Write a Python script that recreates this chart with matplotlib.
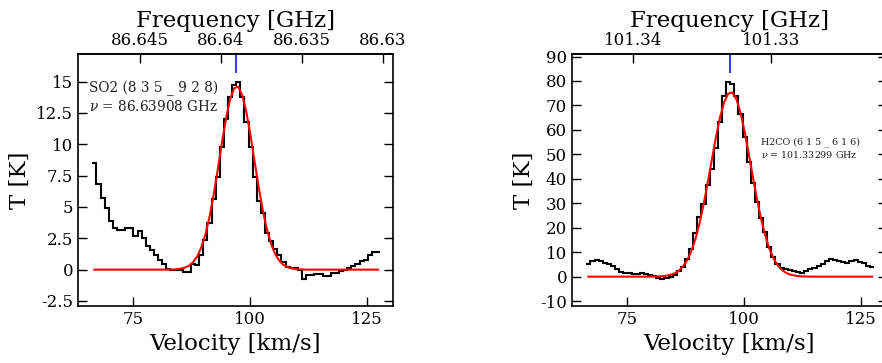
import matplotlib
matplotlib.use("Agg")
import matplotlib.pyplot as plt
import numpy as np
from matplotlib.ticker import FuncFormatter

C_KMS = 299792.458
V_SYS = 97.0  # km/s, source velocity used for the frequency axis

# channel grid (km/s)
vel_start = 66.27
vel_step = 0.88

# SO2 (8 3 5 _ 9 2 8)
so2_nu = 86.63908
so2_T = [8.5, 6.8, 5.7, 4.9, 3.9, 3.3, 3.2, 3.15, 3.3, 3.3,
         2.7, 3.1, 2.5, 1.85, 1.55, 1.2, 0.8, 0.42, 0.08, 0.0,
         0.0, 0.0, -0.15, -0.15, 0.48, 0.35, 1.15, 2.4, 3.7, 5.65,
         7.4, 9.8, 12.0, 13.75, 14.7, 14.95, 13.75, 11.75, 9.8, 7.4,
         5.45, 4.5, 2.9, 2.3, 1.65, 1.15, 0.6, 0.2, 0.15, 0.15,
         0.0, -0.72, -0.45, -0.4, -0.37, -0.35, -0.48, -0.48, -0.3, -0.24,
         -0.11, 0.0, 0.13, 0.29, 0.48, 0.66, 0.8, 1.14, 1.41, 1.41]
so2_fit = [0, 0, 0, 0, 0, 0, 0, 0, 0, 0,
           0, 0, 0, 0, 0, 0, 0, 0.0, 0.01, 0.01,
           0.03, 0.08, 0.16, 0.31, 0.59, 1.05, 1.77, 2.80, 4.20, 5.94,
           7.95, 10.06, 12.02, 13.57, 14.48, 14.60, 13.91, 12.53, 10.66, 8.57,
           6.52, 4.68, 3.18, 2.04, 1.23, 0.71, 0.38, 0.20, 0.10, 0.04,
           0.02, 0.01, 0, 0, 0, 0, 0, 0, 0, 0,
           0, 0, 0, 0, 0, 0, 0, 0, 0, 0]

# H2CO (6 1 5 _ 6 1 6)
h2co_nu = 101.33299
h2co_T = [5.2, 6.5, 6.8, 6.2, 5.6, 5.2, 4.2, 3.1, 2.0, 1.6,
          1.4, 1.1, 0.9, 1.4, 1.1, 0.7, 0.2, -0.4, -1.0, -0.6,
          0.0, 0.8, 2.2, 3.8, 7.1, 11.2, 17.7, 24.3, 29.7, 37.5,
          44.1, 52.5, 63.2, 73.7, 79.5, 78.7, 73.7, 66.6, 57.3, 46.8,
          38.2, 30.4, 24.0, 18.1, 12.3, 8.2, 5.2, 3.4, 3.0, 2.7,
          2.5, 2.0, 1.6, 2.2, 3.0, 3.5, 4.2, 5.0, 6.3, 7.2,
          7.0, 6.5, 6.0, 5.7, 6.3, 6.7, 6.1, 5.5, 4.2, 3.8]
h2co_fit = [0, 0, 0, 0, 0, 0, 0, 0, 0, 0,
            0, 0, 0, 0, 0, 0.02, 0.04, 0.10, 0.20, 0.40,
            0.76, 1.39, 2.45, 4.12, 6.65, 10.27, 15.20, 21.55, 29.29, 38.10,
            47.51, 56.78, 64.96, 71.23, 74.82, 75.30, 72.60, 67.06, 59.34, 50.30,
            40.85, 31.79, 23.70, 16.93, 11.57, 7.59, 4.76, 2.87, 1.65, 0.91,
            0.48, 0.24, 0.12, 0.06, 0.02, 0, 0, 0, 0, 0,
            0, 0, 0, 0, 0, 0, 0, 0, 0, 0]

plt.rcParams['font.family'] = ['DejaVu Serif']
plt.rcParams['mathtext.fontset'] = 'dejavuserif'
plt.rcParams['axes.linewidth'] = 1.2

fmt = FuncFormatter(lambda x, pos: '%g' % x)


def draw_panel(ax, T, fit, nu, label, label_xy, label_size, yticks, ylim, fticks):
    edges = vel_start + vel_step * np.arange(len(T) + 1)
    centers = edges[:-1] + vel_step / 2
    ax.stairs(T, edges, baseline=None, color='black', lw=1.5)
    ax.plot(centers, fit, color='red', lw=1.5)
    ax.axvline(V_SYS, ymin=0.93, ymax=1.0, color='#3b3bff', lw=1.5)

    ax.set_xlim(63.2, 130.6)
    ax.set_ylim(*ylim)
    ax.set_xticks([75, 100, 125])
    ax.set_yticks(yticks)
    ax.yaxis.set_major_formatter(fmt)
    ax.tick_params(direction='in', top=False, right=True, length=6.5,
                   width=1, labelsize=12)
    ax.set_xlabel('Velocity [km/s]', fontsize=16.5)
    ax.set_ylabel('T [K]', fontsize=16.5)

    sec = ax.secondary_xaxis(
        'top',
        functions=(lambda v: nu * (1 - (v - V_SYS) / C_KMS),
                   lambda f: V_SYS + C_KMS * (1 - f / nu)))
    sec.set_xticks(fticks)
    sec.xaxis.set_major_formatter(fmt)
    sec.tick_params(direction='in', length=6.5, width=1, labelsize=12)
    sec.set_xlabel('Frequency [GHz]', fontsize=16.5)

    ax.text(label_xy[0], label_xy[1], label, transform=ax.transAxes,
            fontsize=label_size, va='top', ha='left', color='#222222',
            linespacing=1.25)


fig = plt.figure(figsize=(8.82, 3.63), dpi=100)
ax1 = fig.add_axes([0.0884, 0.157, 0.357, 0.694])
ax2 = fig.add_axes([0.6485, 0.157, 0.357, 0.694])

draw_panel(ax1, so2_T, so2_fit, so2_nu,
           'SO2 (8 3 5 _ 9 2 8)\n$\\nu$ = 86.63908 GHz', (0.036, 0.895), 9.8,
           [-2.5, 0, 2.5, 5, 7.5, 10, 12.5, 15], (-2.9, 17.2),
           [86.645, 86.64, 86.635, 86.63])
draw_panel(ax2, h2co_T, h2co_fit, h2co_nu,
           'H2CO (6 1 5 _ 6 1 6)\n$\\nu$ = 101.33299 GHz', (0.6, 0.67), 6.8,
           list(range(-10, 91, 10)), (-12, 91),
           [101.34, 101.33])

fig.savefig('out.png', dpi=100)
